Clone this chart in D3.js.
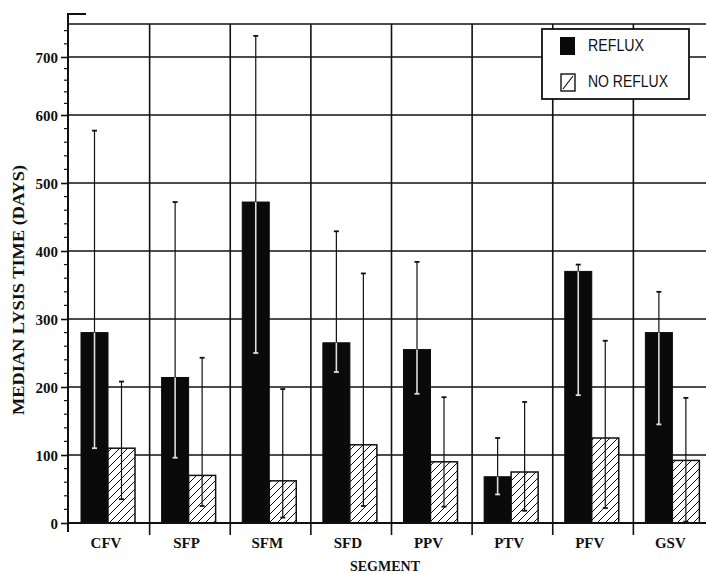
<!DOCTYPE html>
<html>
<head>
<meta charset="utf-8">
<script src="https://cdn.jsdelivr.net/npm/d3@7"></script>
<style>
  html, body { margin: 0; padding: 0; background: #fff; }
  svg { display: block; }
</style>
</head>
<body>
<svg id="chart" width="706" height="573"></svg>
<script>
// Median lysis time by venous segment, with and without reflux
const segments = ["CFV", "SFP", "SFM", "SFD", "PPV", "PTV", "PFV", "GSV"];
const refluxMedian   = [280, 214, 472, 265, 255, 68, 370, 280];
const refluxLow      = [110,  96, 250, 222, 190, 42, 188, 145];
const refluxHigh     = [577, 472, 732, 429, 384, 125, 380, 340];
const noRefluxMedian = [110,  70,  62, 115,  90, 75, 125,  92];
const noRefluxLow    = [ 35,  25,   8,  25,  24, 18,  22,   2];
const noRefluxHigh   = [208, 243, 197, 367, 185, 178, 268, 184];
const yTicks = [0, 100, 200, 300, 400, 500, 600, 700];
const seriesNames = ["REFLUX", "NO REFLUX"];

const svg = d3.select("#chart");
const serif = "'Liberation Serif', 'Times New Roman', serif";
const sans = "'Liberation Sans', Arial, sans-serif";

const x = d3.scaleBand().domain(segments).range([69, 714]).paddingInner(0).paddingOuter(0);
const y = d3.scaleLinear().domain([0, 600, 700, 750]).range([523, 115, 57, 24]);
const axisX = 68;

// hatch pattern for the no-reflux bars
const defs = svg.append("defs");
const pat = defs.append("pattern")
  .attr("id", "hatch").attr("patternUnits", "userSpaceOnUse")
  .attr("width", 8).attr("height", 8);
pat.append("rect").attr("width", 8).attr("height", 8).attr("fill", "#fff");
pat.append("path").attr("d", "M-2,2 L2,-2 M0,8 L8,0 M6,10 L10,6")
  .attr("stroke", "#111").attr("stroke-width", 1);

// horizontal grid lines and frame top
const grid = svg.append("g").attr("stroke", "#111").attr("stroke-width", 1.6);
grid.selectAll("line.h").data(yTicks.slice(1).concat([750])).join("line")
  .attr("x1", axisX).attr("x2", 706)
  .attr("y1", d => y(d)).attr("y2", d => y(d));

// vertical grid lines at segment boundaries, running below the base line
const bounds = segments.slice(1).map(s => x(s));
grid.selectAll("line.v").data(bounds).join("line")
  .attr("x1", d => d).attr("x2", d => d)
  .attr("y1", y(750)).attr("y2", 535);

// y axis with minor ticks every 20 days
const yAxis = d3.axisLeft(y).tickValues(yTicks).tickSize(7).tickSizeOuter(0).tickFormat(d3.format("d"));
const ya = svg.append("g").attr("transform", `translate(${axisX},0)`).call(yAxis);
ya.select(".domain").remove();
ya.selectAll(".tick line").attr("stroke", "#111").attr("stroke-width", 1.6);
ya.selectAll(".tick text").attr("font-family", serif).attr("font-weight", "bold")
  .attr("font-size", 15).attr("fill", "#111").attr("x", -10).attr("dy", "0.36em");
const minor = d3.range(0, 741, 20).filter(v => v % 100 !== 0);
ya.selectAll("line.minor").data(minor).join("line").attr("class", "minor")
  .attr("x1", -4).attr("x2", 0).attr("y1", d => y(d)).attr("y2", d => y(d))
  .attr("stroke", "#111").attr("stroke-width", 1.2);
svg.append("line").attr("x1", axisX).attr("x2", axisX).attr("y1", 13).attr("y2", 532)
  .attr("stroke", "#111").attr("stroke-width", 2);
svg.append("line").attr("x1", axisX).attr("x2", 86).attr("y1", 14).attr("y2", 14)
  .attr("stroke", "#111").attr("stroke-width", 2);

// bars
const rows = segments.map((s, i) => ({
  seg: s,
  r: refluxMedian[i], rl: refluxLow[i], rh: refluxHigh[i],
  n: noRefluxMedian[i], nl: noRefluxLow[i], nh: noRefluxHigh[i]
}));
const barW = 27, off = 12;
const bars = svg.append("g");
bars.selectAll("rect.r").data(rows).join("rect")
  .attr("x", d => x(d.seg) + off).attr("width", barW)
  .attr("y", d => y(d.r)).attr("height", d => y(0) - y(d.r))
  .attr("fill", "#0a0a0a").attr("stroke", "#0a0a0a").attr("stroke-width", 1);
bars.selectAll("rect.n").data(rows).join("rect")
  .attr("x", d => x(d.seg) + off + barW).attr("width", barW)
  .attr("y", d => y(d.n)).attr("height", d => y(0) - y(d.n))
  .attr("fill", "url(#hatch)").attr("stroke", "#111").attr("stroke-width", 1.5);

// error bars: light where they cross the dark bars, dark elsewhere
function errBar(g, cx, lo, hi, med, dark) {
  const top = y(hi), bot = y(lo), barTop = y(med);
  if (dark) {
    if (top < barTop) {
      g.append("line").attr("x1", cx).attr("x2", cx).attr("y1", top).attr("y2", barTop)
        .attr("stroke", "#111").attr("stroke-width", 1.2);
    }
    g.append("line").attr("x1", cx).attr("x2", cx)
      .attr("y1", Math.max(top, barTop)).attr("y2", bot)
      .attr("stroke", "#ddd").attr("stroke-width", 1.6);
  } else {
    g.append("line").attr("x1", cx).attr("x2", cx).attr("y1", top).attr("y2", bot)
      .attr("stroke", "#111").attr("stroke-width", 1.2);
  }
  g.append("line").attr("x1", cx - 2.5).attr("x2", cx + 2.5).attr("y1", top).attr("y2", top)
    .attr("stroke", top < barTop || !dark ? "#111" : "#ddd").attr("stroke-width", 1.8);
  g.append("line").attr("x1", cx - 2.5).attr("x2", cx + 2.5).attr("y1", bot).attr("y2", bot)
    .attr("stroke", dark ? "#ddd" : "#111").attr("stroke-width", 1.8);
}
const eg = svg.append("g");
rows.forEach(d => {
  errBar(eg, x(d.seg) + off + barW / 2, d.rl, d.rh, d.r, true);
  errBar(eg, x(d.seg) + off + barW * 1.5, d.nl, d.nh, d.n, false);
});

// base line
svg.append("line").attr("x1", axisX).attr("x2", 706).attr("y1", y(0)).attr("y2", y(0))
  .attr("stroke", "#111").attr("stroke-width", 2);

// category labels
svg.append("g").selectAll("text").data(segments).join("text")
  .attr("x", d => x(d) + off + barW - 2).attr("y", 548)
  .attr("text-anchor", "middle").attr("font-family", serif).attr("font-weight", "bold")
  .attr("font-size", 15).attr("fill", "#111").text(d => d);

// axis titles
svg.append("text").attr("x", 385).attr("y", 571).attr("text-anchor", "middle")
  .attr("font-family", serif).attr("font-weight", "bold").attr("font-size", 14)
  .attr("fill", "#111").text("SEGMENT");
svg.append("text").attr("transform", "translate(24,290) rotate(-90)")
  .attr("text-anchor", "middle").attr("font-family", serif).attr("font-weight", "bold")
  .attr("font-size", 17).attr("fill", "#111")
  .attr("textLength", 250).attr("lengthAdjust", "spacingAndGlyphs")
  .text("MEDIAN LYSIS TIME (DAYS)");

// legend
const lg = svg.append("g");
lg.append("rect").attr("x", 542).attr("y", 29).attr("width", 147).attr("height", 70)
  .attr("fill", "#fff").attr("stroke", "#111").attr("stroke-width", 1.8);
lg.append("rect").attr("x", 560).attr("y", 37).attr("width", 15).attr("height", 18)
  .attr("fill", "#0a0a0a");
lg.append("rect").attr("x", 561).attr("y", 74).attr("width", 14).attr("height", 17)
  .attr("fill", "#fff").attr("stroke", "#111").attr("stroke-width", 1.4);
lg.append("line").attr("x1", 563).attr("y1", 89).attr("x2", 573).attr("y2", 76)
  .attr("stroke", "#111").attr("stroke-width", 1.2);
lg.selectAll("text").data(seriesNames).join("text")
  .attr("x", 588).attr("y", (d, i) => 51 + i * 36)
  .attr("font-family", sans).attr("font-size", 16).attr("fill", "#111")
  .attr("textLength", (d, i) => i === 0 ? 56 : 80).attr("lengthAdjust", "spacingAndGlyphs")
  .text(d => d);
</script>
</body>
</html>
